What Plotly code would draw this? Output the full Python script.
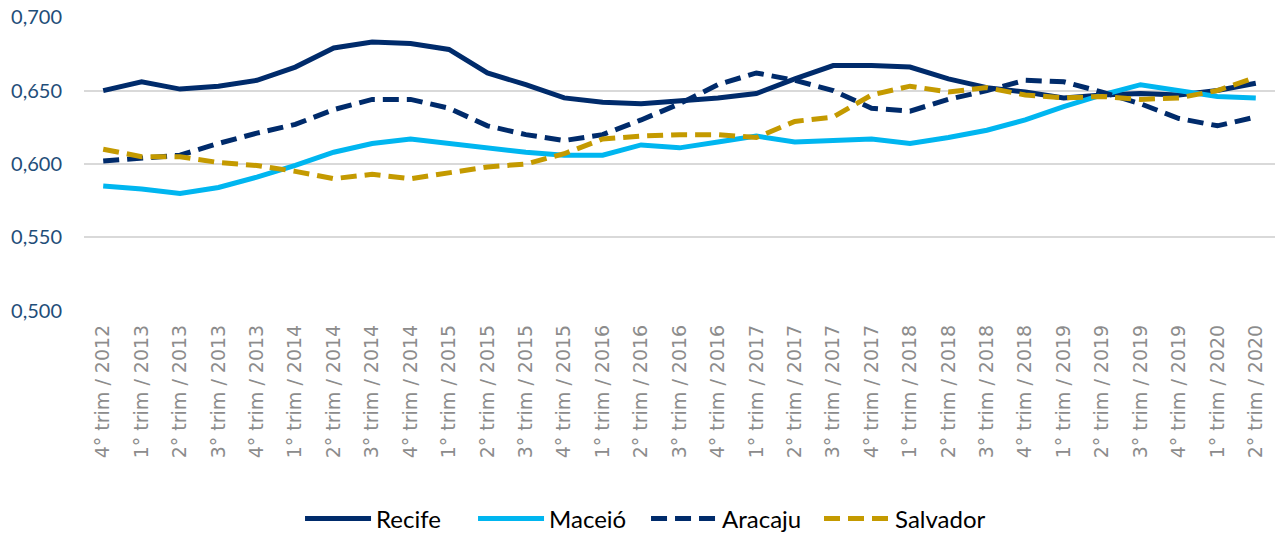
import plotly.graph_objects as go

categories = [
    "4° trim / 2012",
    "1° trim / 2013", "2° trim / 2013", "3° trim / 2013", "4° trim / 2013",
    "1° trim / 2014", "2° trim / 2014", "3° trim / 2014", "4° trim / 2014",
    "1° trim / 2015", "2° trim / 2015", "3° trim / 2015", "4° trim / 2015",
    "1° trim / 2016", "2° trim / 2016", "3° trim / 2016", "4° trim / 2016",
    "1° trim / 2017", "2° trim / 2017", "3° trim / 2017", "4° trim / 2017",
    "1° trim / 2018", "2° trim / 2018", "3° trim / 2018", "4° trim / 2018",
    "1° trim / 2019", "2° trim / 2019", "3° trim / 2019", "4° trim / 2019",
    "1° trim / 2020", "2° trim / 2020",
]

y_ticks = [0.500, 0.550, 0.600, 0.650, 0.700]

recife = [0.650, 0.656, 0.651, 0.653, 0.657, 0.666, 0.679, 0.683, 0.682, 0.678,
          0.662, 0.654, 0.645, 0.642, 0.641, 0.643, 0.645, 0.648, 0.658, 0.667,
          0.667, 0.666, 0.658, 0.652, 0.649, 0.645, 0.647, 0.648, 0.647, 0.650,
          0.655]
maceio = [0.585, 0.583, 0.580, 0.584, 0.591, 0.599, 0.608, 0.614, 0.617, 0.614,
          0.611, 0.608, 0.606, 0.606, 0.613, 0.611, 0.615, 0.619, 0.615, 0.616,
          0.617, 0.614, 0.618, 0.623, 0.630, 0.639, 0.647, 0.654, 0.650, 0.646,
          0.645]
aracaju = [0.602, 0.604, 0.606, 0.614, 0.621, 0.627, 0.637, 0.644, 0.644, 0.638,
           0.626, 0.620, 0.616, 0.620, 0.630, 0.641, 0.654, 0.662, 0.657, 0.650,
           0.638, 0.636, 0.644, 0.650, 0.657, 0.656, 0.649, 0.641, 0.631, 0.626,
           0.632]
salvador = [0.610, 0.605, 0.605, 0.601, 0.599, 0.595, 0.590, 0.593, 0.590, 0.594,
            0.598, 0.600, 0.607, 0.617, 0.619, 0.620, 0.620, 0.618, 0.629, 0.632,
            0.647, 0.653, 0.649, 0.652, 0.647, 0.645, 0.646, 0.644, 0.645, 0.650,
            0.659]

series = [
    ("Recife", recife, "#002b6b", "solid"),
    ("Maceió", maceio, "#00b6f0", "solid"),
    ("Aracaju", aracaju, "#002b6b", "16px,8px"),
    ("Salvador", salvador, "#c49a00", "16px,8px"),
]

fig = go.Figure()
for name, vals, color, dash in series:
    fig.add_trace(go.Scatter(
        x=categories, y=vals, name=name, mode="lines",
        line=dict(color=color, width=5, dash=dash),
    ))

fig.update_layout(
    width=1278, height=535,
    margin=dict(l=84, r=3, t=17, b=224),
    paper_bgcolor="white", plot_bgcolor="white",
    separators=",.",
    font=dict(family="Lato, Carlito, sans-serif"),
    showlegend=True,
    legend=dict(
        orientation="h", xref="container", yref="container",
        x=0.5055, xanchor="center", y=0.03, yanchor="middle",
        font=dict(size=24, color="#000000"), itemwidth=66,
        entrywidth=92, entrywidthmode="pixels",
        traceorder="normal",
    ),
)
fig.update_xaxes(
    type="category", tickangle=-90, showgrid=False, showline=False,
    ticks="", tickfont=dict(family="DejaVu Sans, sans-serif", size=19, color="#8c8c8c"),
    range=[-0.5, len(categories) - 0.5], automargin=False,
    ticklabelstandoff=9,
)
fig.update_yaxes(
    range=[0.4999, 0.7001], tickmode="array", tickvals=y_ticks, tickformat=".3f",
    showgrid=True, gridcolor="#d9d9d9", gridwidth=2,
    zeroline=False, showline=False, ticks="",
    tickfont=dict(size=20, color="#1f4e79"), automargin=False,
    ticklabelstandoff=21, ticklabeloverflow="allow",
)

# remove the default 8px page margin so the figure fills the window exactly
fig.write_html(
    "out.html",
    config={"displayModeBar": False},
    post_script="document.body.style.margin='0';",
)
